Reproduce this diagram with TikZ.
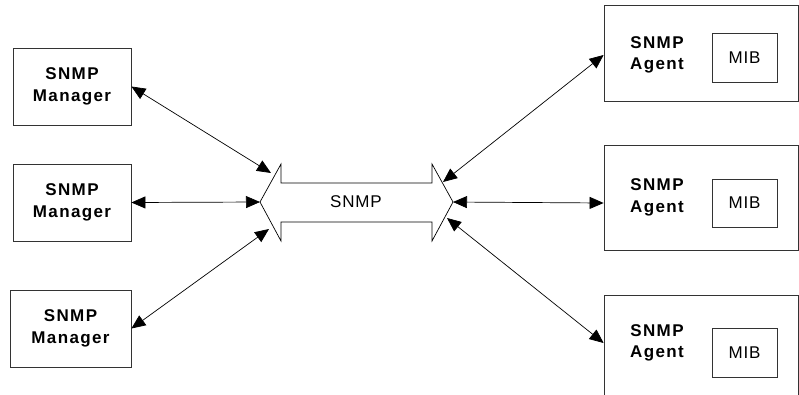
\documentclass[tikz,border=0pt]{standalone}
\usepackage{fontspec}
\setmainfont{Liberation Sans}
\usetikzlibrary{arrows.meta}
\begin{document}
\begin{tikzpicture}[x=1pt,y=-1pt,
  box/.style={draw=black!80,line width=0.8pt,fill=white,inner sep=0pt},
  boldtxt/.style={align=center,inner sep=0pt,font=\fontsize{17}{21.5}\selectfont\bfseries\addfontfeature{LetterSpace=8}},
  plaintxt/.style={inner sep=0pt,font=\fontsize{17}{20}\selectfont\addfontfeature{LetterSpace=5}},
  conn/.style={line width=0.7pt,{Triangle[length=14pt,width=12pt]}-{Triangle[length=14pt,width=12pt]}}]
\useasboundingbox (0,0) rectangle (799,394);
\clip (0,0) rectangle (799,394);
% managers
\node[box,minimum width=118pt,minimum height=77pt,boldtxt] (m1) at (72,86.5) {SNMP\\Manager};
\node[box,minimum width=118pt,minimum height=77pt,boldtxt] (m2) at (72,202.5) {SNMP\\Manager};
\node[box,minimum width=121pt,minimum height=77pt,boldtxt] (m3) at (70.5,328.5) {SNMP\\Manager};
% agents
\node[box,minimum width=194pt,minimum height=96pt] (a1) at (701,53) {};
\node[box,minimum width=194pt,minimum height=105pt] (a2) at (701,197.5) {};
\node[box,minimum width=194pt,minimum height=106pt] (a3) at (701,348) {};
\node[boldtxt] (a1t) at (657,55) {SNMP\\Agent};
\node[boldtxt] (a2t) at (657,197.5) {SNMP\\Agent};
\node[boldtxt] (a3t) at (657,343) {SNMP\\Agent};
\node[box,minimum width=65pt,minimum height=49pt,plaintxt] (mib1) at (744.5,57.5) {MIB};
\node[box,minimum width=65pt,minimum height=48pt,plaintxt] (mib2) at (744.5,203) {MIB};
\node[box,minimum width=65pt,minimum height=49pt,plaintxt] (mib3) at (744.5,352.5) {MIB};
% big double arrow
\draw[line width=0.7pt,fill=white] (260,202) coordinate (lb) -- (281,164) -- (281,183) -- (432,183) -- (432,164)
  -- (453,202) coordinate (rb) -- (432,241) -- (432,222) -- (281,222) -- (281,241) -- cycle;
\node[plaintxt] (snmp) at (356,201.5) {SNMP};
\coordinate (la) at (271,173);
\coordinate (lc) at (269,229);
\coordinate (ra) at (443,182);
\coordinate (rc) at (447,218);
% connectors
\draw[conn] (m1.east) -- (la);
\draw[conn] (m2.east) -- (lb);
\draw[conn] (m3.east) -- (lc);
\draw[conn] (ra) -- ([yshift=-2pt]a1.west);
\draw[conn] (rb) -- ([yshift=-5.5pt]a2.west);
\draw[conn] (rc) -- ([yshift=5pt]a3.west);
\end{tikzpicture}
\end{document}
